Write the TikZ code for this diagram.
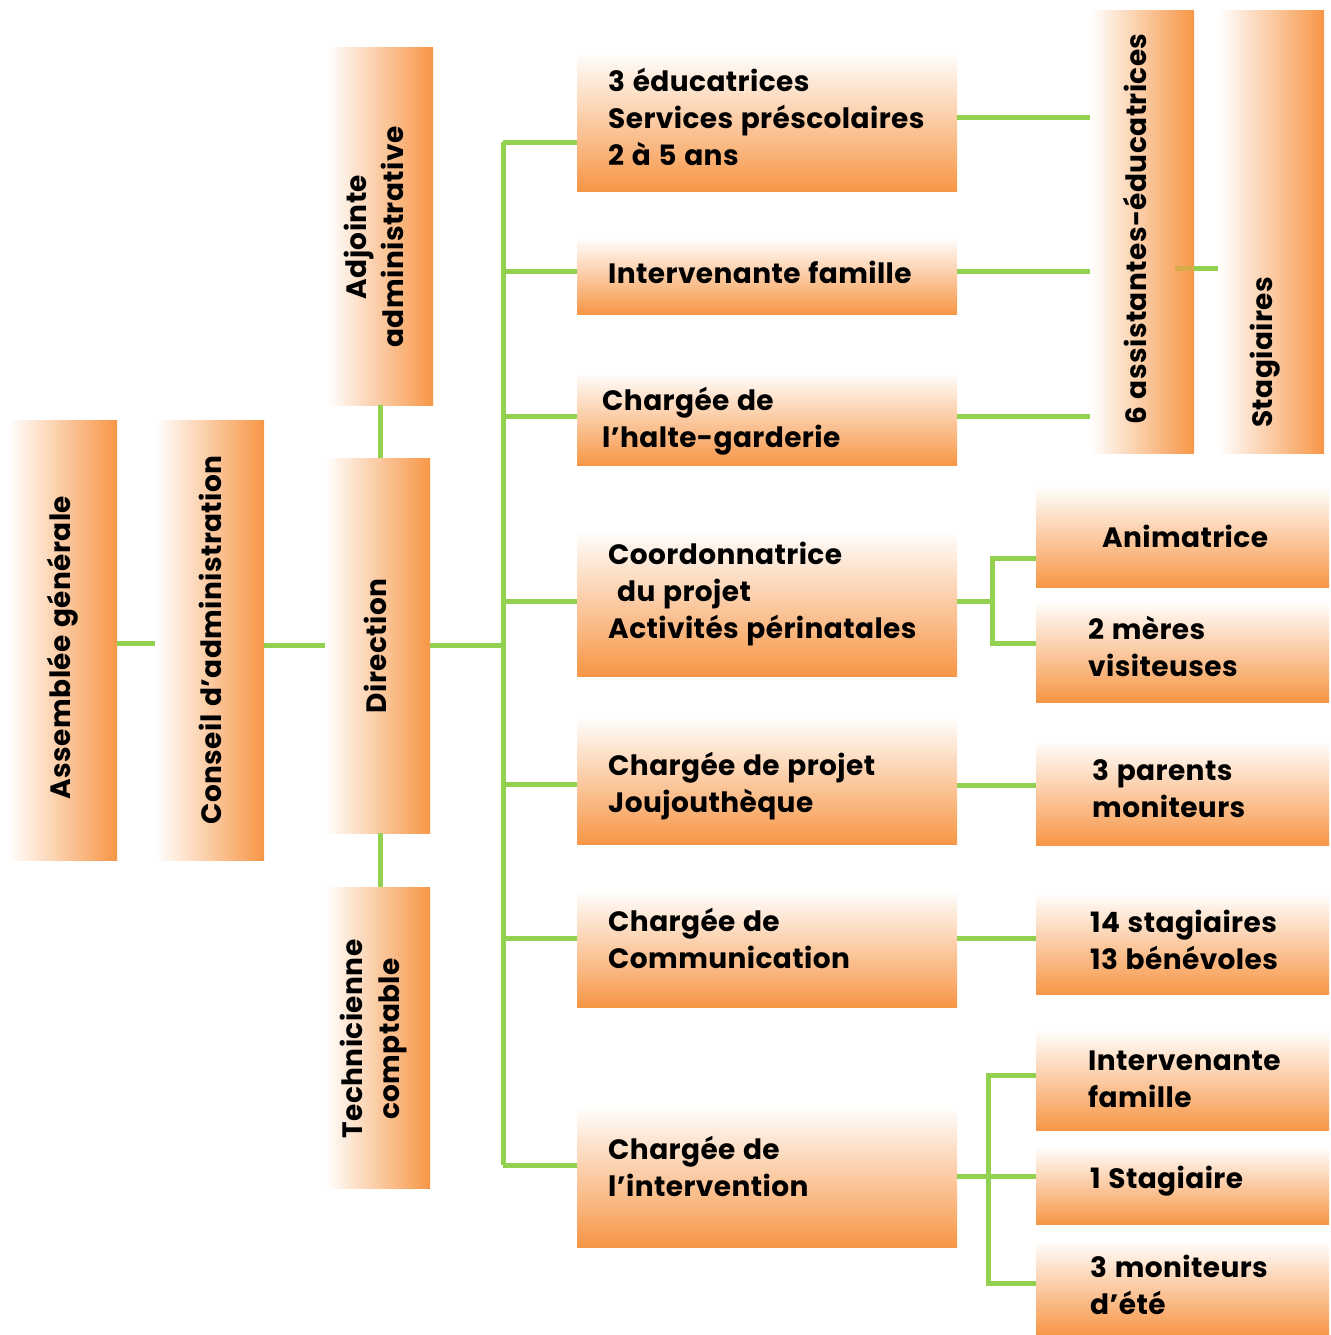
\documentclass[tikz,border=0pt]{standalone}
\usepackage{fontspec}
\setmainfont{Poppins}[LetterSpace=1.5,WordSpace=1.2]
\definecolor{org}{RGB}{247,150,70}
\definecolor{grn}{RGB}{146,208,80}
\definecolor{mixg}{RGB}{214,170,70}
\begin{document}
\begin{tikzpicture}[x=1pt,y=-1pt,
  lbl/.style={font=\fontsize{28}{37}\selectfont\bfseries, text=black, inner sep=0pt, align=left},
  vlbl/.style={lbl, rotate=90, align=center},
  hbox/.style={rectangle, inner sep=0pt, top color=white, bottom color=org, draw=none},
  vbox/.style={rectangle, inner sep=0pt, left color=white, right color=org, draw=none},
  mbox/.style={hbox, minimum width=380pt},
  rbox/.style={hbox, minimum width=293pt},
  conn/.style={draw=grn, line width=5pt}]
\useasboundingbox (0,0) rectangle (1330,1335);

\coordinate (tTop) at (503,142);
\coordinate (tBot) at (503,1165);
\coordinate (tMid) at (503,645.5);

% ---- vertical boxes
\node[vbox, minimum width=109pt, minimum height=440pt] (ag) at (62.5,640) {};
\node[vbox, minimum width=109pt, minimum height=440pt] (ca) at (209.5,640) {};
\node[vbox, minimum width=106pt, minimum height=357pt] (adj) at (380,226.5) {};
\node[vbox, minimum width=105pt, minimum height=375pt] (dir) at (377.5,645.5) {};
\node[vbox, minimum width=105pt, minimum height=301pt] (tech) at (377.5,1037.5) {};
\node[vbox, minimum width=104pt, minimum height=442pt] (assist) at (1142,232) {};
\node[vbox, minimum width=106pt, minimum height=442pt] (stag) at (1271,232) {};

\node[vlbl] (agt) at (63,647.5) {Assemblée générale};
\node[vlbl] (cat) at (210,640) {Conseil d’administration};
\node[vlbl] (dirt) at (375,646) {Direction};
\node[vlbl] (adjt) at (374,237) {Adjointe\\administrative};
\node[vlbl] (techt) at (374,1039) {Technicienne\\comptable};
\node[vlbl] (assistt) at (1135,229) {6 assistantes-éducatrices};
\node[vlbl, anchor=west] (stagt) at (1265,428) {Stagiaires};

% ---- middle boxes
\node[mbox, minimum height=139pt] (edu) at (767,121.5) {};
\node[mbox, minimum height=77pt] (intf) at (767,275.5) {};
\node[mbox, minimum height=93pt] (halte) at (767,418.5) {};
\node[mbox, minimum height=146pt] (coord) at (767,603) {};
\node[mbox, minimum height=128pt] (jouj) at (767,780) {};
\node[mbox, minimum height=117pt] (comm) at (767,948.5) {};
\node[mbox, minimum height=142pt] (interv) at (767,1176) {};

\node[lbl, anchor=west] (edut) at (608,117) {3 éducatrices\\Services préscolaires\\2 à 5 ans};
\node[lbl, anchor=west] (intft) at (608,272) {Intervenante famille};
\node[lbl, anchor=west] (haltet) at (602,421) {Chargée de\\l’halte-garderie};
\node[lbl, anchor=west] (coordt) at (608,594) {Coordonnatrice\\\hspace*{9pt}du projet\\Activités périnatales};
\node[lbl, anchor=west] (joujt) at (608,786) {Chargée de projet\\Joujouthèque};
\node[lbl, anchor=west] (commt) at (608,938) {Chargée de\\Communication};
\node[lbl, anchor=west] (intervt) at (608,1166) {Chargée de\\l’intervention};

% ---- right boxes
\node[rbox, minimum height=101pt] (anim) at (1182.5,536.5) {};
\node[rbox, minimum height=102pt] (meres) at (1182.5,651) {};
\node[rbox, minimum height=105pt] (parents) at (1182.5,792.5) {};
\node[rbox, minimum height=101pt] (s14) at (1182.5,943.5) {};
\node[rbox, minimum height=100pt] (intf2) at (1182.5,1080) {};
\node[rbox, minimum height=78pt] (stag1) at (1182.5,1185) {};
\node[rbox, minimum height=95pt] (monit) at (1182.5,1287.5) {};

\node[lbl] (animt) at (1185,536) {Animatrice};
\node[lbl, anchor=west] (merest) at (1088,646) {2 mères\\visiteuses};
\node[lbl, anchor=west] (parentst) at (1092,789) {3 parents\\moniteurs};
\node[lbl, anchor=west] (s14t) at (1090,940) {14 stagiaires\\13 bénévoles};
\node[lbl, anchor=west] (intf2t) at (1088,1079) {Intervenante\\famille};
\node[lbl, anchor=west] (stag1t) at (1090,1181) {1 Stagiaire};
\node[lbl, anchor=west] (monitt) at (1090,1285) {3 moniteurs\\d’été};

% ---- connectors
\draw[conn] (ag.east |- 0,643) -- (ca.west |- 0,643);
\draw[conn] (ca.east |- 0,645) -- (dir.west |- 0,645);
\draw[conn] (adj.south) -- (adj.south |- dir.north);
\draw[conn] (dir.south -| 380,0) -- (tech.north -| 380,0);
\draw[conn] (dir.east) -- (tMid);
\draw[conn] (tTop) -- (tBot);
\draw[conn] (tTop) -- (tTop -| edu.west);
\coordinate (b2) at (503,271);
\coordinate (b3) at (503,416);
\coordinate (b4) at (503,601);
\coordinate (b5) at (503,784);
\coordinate (b6) at (503,938);
\draw[conn] (b2) -- (b2 -| intf.west);
\draw[conn] (b3) -- (b3 -| halte.west);
\draw[conn] (b4) -- (b4 -| coord.west);
\draw[conn] (b5) -- (b5 -| jouj.west);
\draw[conn] (b6) -- (b6 -| comm.west);
\draw[conn] (tBot) -- (tBot -| interv.west);

\coordinate (r1) at (0,118);
\coordinate (r2) at (0,271);
\coordinate (r3) at (0,416);
\draw[conn] (edu.east |- r1) -- (assist.west |- r1);
\draw[conn] (intf.east |- r2) -- (assist.west |- r2);
\draw[conn] (halte.east |- r3) -- (assist.west |- r3);
\coordinate (aj) at (1175,268);
\draw[line width=5pt, draw=mixg] (aj) -- (aj -| assist.east);
\draw[conn] (aj -| assist.east) -- (aj -| stag.west);

\coordinate (cA) at (992,558);
\coordinate (cB) at (992,643);
\draw[conn] (coord.east |- 0,601) -- (cA |- 0,601);
\draw[conn] (cA -| anim.west) -- (cA) -- (cB) -- (cB -| meres.west);

\coordinate (jy) at (0,785);
\draw[conn] (jouj.east |- jy) -- (parents.west |- jy);
\coordinate (my) at (0,938);
\draw[conn] (comm.east |- my) -- (s14.west |- my);

\coordinate (iA) at (988,1075);
\coordinate (iB) at (988,1176);
\coordinate (iC) at (988,1283);
\draw[conn] (iA -| intf2.west) -- (iA) -- (iC) -- (iC -| monit.west);
\draw[conn] (interv.east |- iB) -- (iB -| stag1.west);
\end{tikzpicture}
\end{document}
